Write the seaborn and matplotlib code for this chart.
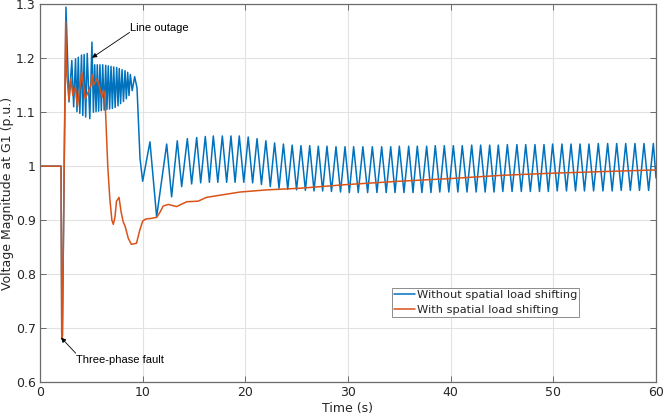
import numpy as np
import pandas as pd
import matplotlib
matplotlib.use("Agg")
import matplotlib.pyplot as plt
import seaborn as sns

# ---------------- data ----------------
label_blue = "Without spatial load shifting"
label_orange = "With spatial load shifting"

blue_t = [0.00, 2.05, 2.12, 2.18, 2.53, 2.82,
          3.10, 3.28, 3.46, 3.60, 3.73, 3.88, 4.04, 4.17, 4.30, 4.45, 4.60, 4.85, 5.06,
          5.20, 5.33, 5.46, 5.58, 5.71, 5.84, 5.97, 6.11, 6.25, 6.40, 6.52, 6.65, 6.78,
          6.92, 7.05, 7.18, 7.32, 7.47, 7.60, 7.72, 7.85, 7.99, 8.13, 8.28, 8.41, 8.54,
          8.67, 8.80, 8.98, 9.22, 9.45, 9.60, 9.74,
          10.00, 10.71, 11.36, 12.34, 12.82, 13.37, 13.80, 14.35, 14.77, 15.26, 15.65,
          16.10, 16.50, 16.88, 17.32, 17.76, 18.18, 18.60, 19.00, 19.41, 19.85, 20.28,
          20.71, 21.14, 21.57, 22.00, 22.43, 22.85, 23.28, 23.71, 24.13, 24.56, 24.99,
          25.42, 25.85, 26.27, 26.69, 27.11, 27.53, 27.95, 28.39, 28.83, 29.27, 29.71,
          30.13, 30.55, 31.00, 31.45, 31.91, 32.37, 32.82, 33.28, 33.72, 34.16, 34.58,
          35.00, 35.45, 35.91, 36.33, 36.75, 37.20, 37.66, 38.08, 38.50, 38.94, 39.38,
          39.82, 40.26, 40.70, 41.13, 41.59, 42.05, 42.48, 42.92, 43.36, 43.80, 44.22,
          44.64, 45.08, 45.52, 45.98, 46.45, 46.88, 47.31, 47.76, 48.21, 48.65, 49.09,
          49.51, 49.93, 50.38, 50.84, 51.28, 51.72, 52.16, 52.60, 53.03, 53.47, 53.92,
          54.38, 54.83, 55.29, 55.73, 56.17, 56.61, 57.05, 57.50, 57.95, 58.39, 58.83,
          59.28, 59.74, 60.00]
blue_v = [1.000, 1.000, 0.680, 0.685, 1.295, 1.119,
          1.196, 1.110, 1.199, 1.101, 1.202, 1.098, 1.206, 1.094, 1.207, 1.091, 1.209, 1.088, 1.230,
          1.100, 1.188, 1.101, 1.188, 1.102, 1.188, 1.103, 1.188, 1.104, 1.187, 1.105, 1.186, 1.106,
          1.185, 1.107, 1.184, 1.109, 1.183, 1.112, 1.181, 1.116, 1.179, 1.120, 1.177, 1.125, 1.174,
          1.131, 1.170, 1.140, 1.166, 1.145, 1.080, 1.015,
          0.972, 1.045, 0.906, 1.041, 0.943, 1.047, 0.962, 1.051, 0.967, 1.053, 0.969,
          1.055, 0.970, 1.056, 0.970, 1.056, 0.970, 1.056, 0.970, 1.056, 0.970, 1.054,
          0.969, 1.051, 0.966, 1.047, 0.962, 1.043, 0.959, 1.041, 0.957, 1.039, 0.956,
          1.038, 0.955, 1.038, 0.954, 1.037, 0.954, 1.037, 0.953, 1.036, 0.952, 1.036,
          0.951, 1.036, 0.951, 1.036, 0.951, 1.036, 0.951, 1.036, 0.951, 1.036, 0.951,
          1.037, 0.951, 1.037, 0.951, 1.037, 0.951, 1.037, 0.951, 1.038, 0.952, 1.038,
          0.952, 1.038, 0.952, 1.038, 0.952, 1.039, 0.952, 1.039, 0.952, 1.039, 0.952,
          1.039, 0.953, 1.040, 0.953, 1.040, 0.953, 1.040, 0.953, 1.040, 0.953, 1.040,
          0.953, 1.041, 0.954, 1.041, 0.954, 1.041, 0.954, 1.041, 0.954, 1.041, 0.954,
          1.042, 0.954, 1.042, 0.954, 1.042, 0.955, 1.042, 0.955, 1.042, 0.955, 1.042,
          0.955, 1.042, 0.978]

orange_t = [0.00, 2.05, 2.12, 2.18, 2.50, 2.60, 2.70, 2.82, 3.00, 3.20, 3.45, 3.65,
            4.07, 4.40, 4.75, 4.95, 5.06, 5.20, 5.55, 5.80, 6.05, 6.20, 6.32, 6.45,
            6.60, 6.80, 7.00, 7.14, 7.30, 7.45, 7.70, 7.90, 8.10, 8.30, 8.60, 8.90,
            9.40, 9.70, 10.00, 10.30, 10.80, 11.36, 11.70, 12.00, 12.50, 13.30, 14.30,
            15.40, 16.20, 17.50, 19.50, 22.10, 25.30, 30.00, 35.00, 40.00, 45.00,
            50.00, 55.00, 60.00]
orange_v = [1.000, 1.000, 0.680, 0.685, 1.268, 1.170, 1.150, 1.122, 1.162, 1.131, 1.147, 1.110,
            1.175, 1.125, 1.140, 1.150, 1.170, 1.150, 1.162, 1.147, 1.128, 1.141, 1.130, 1.070,
            1.000, 0.940, 0.900, 0.892, 0.905, 0.935, 0.942, 0.915, 0.897, 0.888, 0.866, 0.855,
            0.857, 0.880, 0.898, 0.902, 0.903, 0.905, 0.915, 0.926, 0.929, 0.925, 0.934,
            0.935, 0.942, 0.946, 0.952, 0.956, 0.959, 0.966, 0.972, 0.977, 0.983,
            0.987, 0.990, 0.993]

x_ticks = [0, 10, 20, 30, 40, 50, 60]
y_ticks = [0.6, 0.7, 0.8, 0.9, 1.0, 1.1, 1.2, 1.3]
y_tick_labels = ["0.6", "0.7", "0.8", "0.9", "1", "1.1", "1.2", "1.3"]

# ---------------- styling ----------------
sns.set_style("ticks")
plt.rcParams["font.family"] = ["DejaVu Sans"]

BLUE = "#0072BD"
ORANGE = "#D95319"
TXT = "#262626"
SPINE = "#6b6b6b"

df = pd.concat([
    pd.DataFrame({"t": blue_t, "v": blue_v, "series": label_blue}),
    pd.DataFrame({"t": orange_t, "v": orange_v, "series": label_orange}),
], ignore_index=True)

fig = plt.figure(figsize=(6.64, 4.2), dpi=100)
ax = fig.add_axes([40 / 664, (420 - 381.8) / 420, 616 / 664, 377.4 / 420])

sns.lineplot(data=df, x="t", y="v", hue="series",
             hue_order=[label_blue, label_orange],
             palette=[BLUE, ORANGE], estimator=None, sort=False,
             linewidth=1.1, ax=ax, legend=True)

ax.set_xlim(0, 60)
ax.set_ylim(0.6, 1.3)
ax.set_xticks(x_ticks)
ax.set_xticklabels([str(v) for v in x_ticks])
ax.set_yticks(y_ticks)
ax.set_yticklabels(y_tick_labels)

ax.grid(True, color="#e2e2e2", linewidth=0.8)
ax.set_axisbelow(True)
for s in ax.spines.values():
    s.set_visible(True)
    s.set_color(SPINE)
    s.set_linewidth(0.9)

ax.tick_params(direction="in", length=4, width=0.7, color=SPINE,
               labelcolor=TXT, labelsize=9, top=True, right=True, pad=3)

ax.set_xlabel("Time (s)", fontsize=9, color=TXT, labelpad=2)
ax.set_ylabel("Voltage Magnitude at G1 (p.u.)", fontsize=9, color=TXT, labelpad=1)

handles, labels = ax.get_legend_handles_labels()
leg = ax.legend(handles, labels, loc="upper left", bbox_to_anchor=(0.572, 0.2477),
                borderaxespad=0, fontsize=8.2, frameon=True, fancybox=False,
                edgecolor="#8c8c8c", framealpha=1, borderpad=0.15,
                labelspacing=0.42, handlelength=1.85, handletextpad=0.15)
leg.get_frame().set_linewidth(0.7)
for txt in leg.get_texts():
    txt.set_color(TXT)

arrow_kw = dict(arrowstyle="-|>", color="black", lw=0.6, mutation_scale=7,
                shrinkA=0, shrinkB=0)
ax.annotate("", xy=(5.06, 1.201), xytext=(8.72, 1.248), arrowprops=arrow_kw)
ax.text(8.77, 1.257, "Line outage", family=["Liberation Sans", "DejaVu Sans"],
        fontsize=8, ha="left", va="center", color="black")
ax.annotate("", xy=(2.05, 0.682), xytext=(3.48, 0.653), arrowprops=arrow_kw)
ax.text(3.51, 0.640, "Three-phase fault", family=["Liberation Sans", "DejaVu Sans"],
        fontsize=8, ha="left", va="center", color="black")

fig.savefig("out.png", dpi=100)
